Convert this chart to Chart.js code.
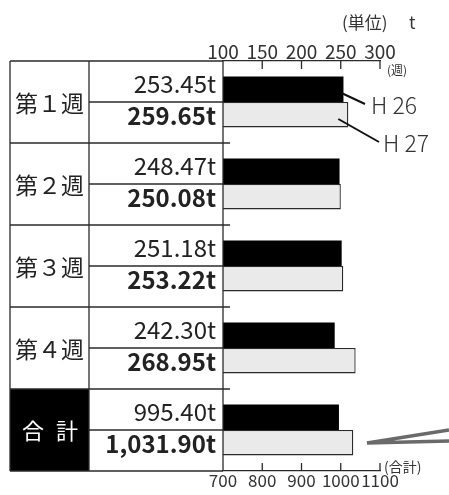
<!DOCTYPE html>
<html>
<head>
<meta charset="utf-8">
<script src="https://cdn.jsdelivr.net/npm/chart.js@4/dist/chart.umd.min.js"></script>
<style>
html,body{margin:0;padding:0;background:#fff;}
#wrap{width:449px;height:495px;position:relative;}
</style>
</head>
<body>
<div id="wrap"><canvas id="c" width="449" height="495"></canvas></div>
<script>
// ---- data ----
const categories = ['第１週', '第２週', '第３週', '第４週', '合計'];
const weekH26 = [253.45, 248.47, 251.18, 242.30];
const weekH27 = [259.65, 250.08, 253.22, 268.95];
const totalH26 = [995.40];
const totalH27 = [1031.90];
const labelsH26 = ['253.45t', '248.47t', '251.18t', '242.30t', '995.40t'];
const labelsH27 = ['259.65t', '250.08t', '253.22t', '268.95t', '1,031.90t'];
const weekTicks = [100, 150, 200, 250, 300];
const totalTicks = [700, 800, 900, 1000, 1100];
const seriesNames = ['H 26', 'H 27'];

const CJK = '"Noto Sans CJK JP", "Noto Sans", sans-serif';
const LINE = '#2a2a2a';

const nWeeks = weekH26.length;
const pad = (arr, before, after) => Array(before).fill(null).concat(arr, Array(after).fill(null));

const tablePlugin = {
  id: 'tablePlugin',
  beforeDatasetsDraw(chart) {
    const {ctx} = chart;
    const y = chart.scales.y;
    const band = (y.getPixelForValue(1) - y.getPixelForValue(0));
    const c = y.getPixelForValue(categories.length - 1);
    ctx.save();
    ctx.fillStyle = '#000';
    ctx.fillRect(10, c - band / 2, 79, band);
    ctx.restore();
  },
  afterDatasetsDraw(chart) {
    const {ctx, chartArea} = chart;
    const y = chart.scales.y, xw = chart.scales.xw, xt = chart.scales.xt;
    const band = (y.getPixelForValue(1) - y.getPixelForValue(0));
    const top = chartArea.top, bottom = chartArea.bottom, left = chartArea.left;
    ctx.save();
    ctx.strokeStyle = LINE;
    ctx.lineWidth = 1.3;
    const line = (x1, y1, x2, y2) => { ctx.beginPath(); ctx.moveTo(x1, y1); ctx.lineTo(x2, y2); ctx.stroke(); };
    // verticals
    line(10, top, 10, bottom);
    line(89, top, 89, bottom);
    line(left, top - 1, left, bottom);
    // top & bottom
    line(10, top, left, top);
    line(10, bottom, left, bottom);
    // group separators and mid lines
    categories.forEach((cat, i) => {
      const c = y.getPixelForValue(i);
      line(89, c, left, c);
      if (i > 0) line(10, c - band / 2, left + 7, c - band / 2);
    });
    // inward tick marks
    weekTicks.slice(1).forEach(v => {
      const px = xw.getPixelForValue(v);
      line(px, top, px, top + 8);
    });
    totalTicks.slice(1).forEach(v => {
      const px = xt.getPixelForValue(v);
      line(px, bottom, px, bottom - 8);
    });

    // texts
    ctx.textBaseline = 'middle';
    categories.forEach((cat, i) => {
      const c = y.getPixelForValue(i);
      ctx.fillStyle = '#222';
      ctx.textAlign = 'right';
      ctx.font = '400 24px ' + CJK;
      ctx.fillText(labelsH26[i], 216, c - 18);
      ctx.font = '700 24px ' + CJK;
      ctx.fillText(labelsH27[i], 216, c + 14);
      ctx.font = '400 23px ' + CJK;
      ctx.textAlign = 'center';
      if (i < nWeeks) {
        ctx.fillText(cat, 49.5, c + 1);
      } else {
        ctx.fillStyle = '#fff';
        const chars = Array.from(cat);
        ctx.font = '400 22px ' + CJK;
        ctx.fillText(chars[0], 33, c + 1);
        ctx.fillText(chars[1], 67, c + 1);
      }
    });

    // unit labels
    ctx.fillStyle = '#333';
    ctx.textAlign = 'left';
    ctx.font = '400 17px ' + CJK;
    ctx.fillText('(単位)', 342, 23);
    ctx.fillText('t', 409, 23);
    ctx.font = '400 12px ' + CJK;
    ctx.fillText('(週)', 387, 70);
    ctx.font = '400 14px ' + CJK;
    ctx.fillText('(合計)', 384, 467);

    // series leader lines + labels
    const c0 = y.getPixelForValue(0);
    ctx.strokeStyle = '#111';
    ctx.lineWidth = 2;
    line(xw.getPixelForValue(weekH26[0]) - 2, c0 - 9, 365, c0 + 2);
    line(xw.getPixelForValue(weekH27[0]) - 10, c0 + 17, 379, c0 + 40);
    ctx.fillStyle = '#333';
    ctx.font = '300 23px ' + CJK;
    ctx.fillText(seriesNames[0], 371, c0 + 3);
    ctx.fillText(seriesNames[1], 383, c0 + 41);

    // gray break mark near total
    const cl = y.getPixelForValue(categories.length - 1);
    ctx.strokeStyle = '#6a6a6a';
    ctx.lineWidth = 3.5;
    ctx.beginPath();
    ctx.moveTo(449, cl - 0);
    ctx.lineTo(367, cl + 13);
    ctx.lineTo(449, cl + 11);
    ctx.stroke();
    ctx.restore();
  }
};

const plainTick = v => String(v);

const chart = new Chart(document.getElementById('c'), {
  type: 'bar',
  data: {
    labels: categories,
    datasets: [
      { label: seriesNames[0], data: pad(weekH26, 0, 1), xAxisID: 'xw', stack: 'a',
        backgroundColor: '#000', borderWidth: 0 },
      { label: seriesNames[1], data: pad(weekH27, 0, 1), xAxisID: 'xw', stack: 'b',
        backgroundColor: '#e9eae9', borderColor: LINE, borderWidth: 1.3 },
      { label: seriesNames[0] + ' 合計', data: pad(totalH26, nWeeks, 0), xAxisID: 'xt', stack: 'a',
        backgroundColor: '#000', borderWidth: 0 },
      { label: seriesNames[1] + ' 合計', data: pad(totalH27, nWeeks, 0), xAxisID: 'xt', stack: 'b',
        backgroundColor: '#e9eae9', borderColor: LINE, borderWidth: 1.3 }
    ]
  },
  options: {
    indexAxis: 'y',
    responsive: false,
    animation: false,
    devicePixelRatio: 1,
    categoryPercentage: 0.62,
    barPercentage: 1,
    layout: { padding: { left: 223, right: 69, top: 41, bottom: 4 } },
    plugins: { legend: { display: false }, tooltip: { enabled: false } },
    scales: {
      y: { type: 'category', display: false, offset: true },
      xw: {
        type: 'linear', position: 'top', min: weekTicks[0], max: weekTicks[weekTicks.length - 1],
        afterBuildTicks: s => { s.ticks = weekTicks.map(v => ({ value: v })); },
        afterFit: s => { s.height = 20; },
        grid: { display: false, drawTicks: false },
        border: { display: true, color: LINE, width: 1.3 },
        ticks: { autoSkip: false, maxRotation: 0, padding: 0, color: '#333', callback: plainTick,
                 font: { family: CJK, size: 19, lineHeight: 1 } }
      },
      xt: {
        type: 'linear', position: 'bottom', min: totalTicks[0], max: totalTicks[totalTicks.length - 1],
        afterBuildTicks: s => { s.ticks = totalTicks.map(v => ({ value: v })); },
        afterFit: s => { s.height = 20; },
        grid: { display: false, drawTicks: false },
        border: { display: true, color: LINE, width: 1.3 },
        ticks: { autoSkip: false, maxRotation: 0, padding: 1, color: '#333', callback: plainTick,
                 font: { family: CJK, size: 17, lineHeight: 1 } }
      }
    }
  },
  plugins: [tablePlugin]
});
</script>
</body>
</html>
